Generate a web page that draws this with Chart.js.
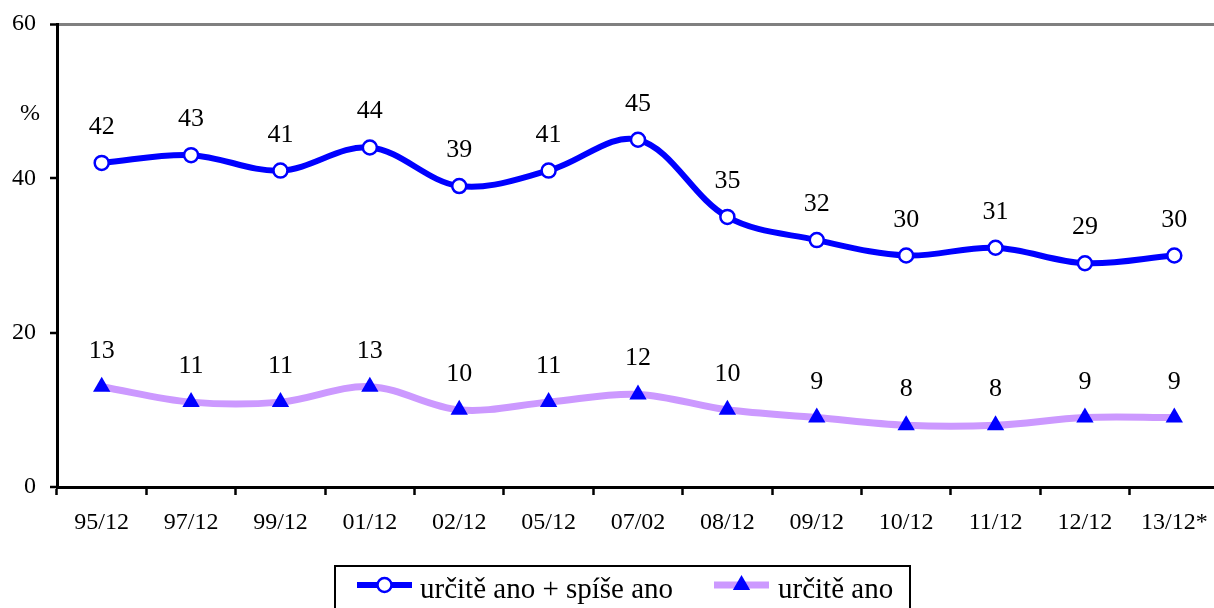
<!DOCTYPE html>
<html>
<head>
<meta charset="utf-8">
<script src="https://cdn.jsdelivr.net/npm/chart.js@4/dist/chart.umd.min.js"></script>
<style>
html,body{margin:0;padding:0;background:#fff;overflow:hidden;width:1214px;height:608px;}
canvas{display:block;}
</style>
</head>
<body>
<canvas id="c" width="1229" height="608"></canvas>
<script>
const categories = ["95/12","97/12","99/12","01/12","02/12","05/12","07/02","08/12","09/12","10/12","11/12","12/12","13/12*"];
const seriesNames = ["určitě ano + spíše ano","určitě ano"];
const seriesA = [42,43,41,44,39,41,45,35,32,30,31,29,30];
const seriesB = [13,11,11,13,10,11,12,10,9,8,8,9,9];
const yTicks = [0,20,40,60];
const yUnit = "%";

const FONT = "'Liberation Serif','Times New Roman',serif";

const dataLabels = {
  id: 'dataLabels',
  afterDatasetsDraw(chart) {
    const ctx = chart.ctx;
    ctx.save();
    ctx.font = "26px " + FONT;
    ctx.fillStyle = "#000";
    ctx.textAlign = "center";
    ctx.textBaseline = "alphabetic";
    chart.data.datasets.forEach((ds, i) => {
      const meta = chart.getDatasetMeta(i);
      meta.data.forEach((pt, j) => {
        ctx.fillText(String(ds.data[j]), pt.x, pt.y - 29);
      });
    });
    ctx.font = "24px " + FONT;
    ctx.fillText(yUnit, 30, 120);
    ctx.restore();
  }
};

const boxLegend = {
  id: 'boxLegend',
  afterDraw(chart) {
    const ctx = chart.ctx;
    const ds = chart.data.datasets;
    ctx.save();
    ctx.strokeStyle = "#000";
    ctx.lineWidth = 2;
    ctx.strokeRect(335, 566, 575, 60);
    const cy = 585;
    const items = [{x0:357,x1:412,tx:420},{x0:714,x1:769,tx:778}];
    items.forEach((it, i) => {
      const d = ds[i];
      ctx.strokeStyle = d.borderColor;
      ctx.lineWidth = d.borderWidth;
      ctx.beginPath();
      ctx.moveTo(it.x0, cy); ctx.lineTo(it.x1, cy); ctx.stroke();
      const mx = (it.x0 + it.x1) / 2;
      ctx.fillStyle = d.pointBackgroundColor;
      ctx.strokeStyle = d.pointBorderColor;
      ctx.lineWidth = d.pointBorderWidth;
      ctx.beginPath();
      if (d.pointStyle === 'circle') {
        ctx.arc(mx, cy, d.pointRadius, 0, Math.PI * 2);
      } else {
        const r = d.pointRadius;
        ctx.moveTo(mx, cy - r);
        ctx.lineTo(mx + r * Math.cos(Math.PI/6), cy + r/2);
        ctx.lineTo(mx - r * Math.cos(Math.PI/6), cy + r/2);
        ctx.closePath();
      }
      ctx.fill();
      if (d.pointBorderWidth > 0) ctx.stroke();
      ctx.fillStyle = "#000";
      ctx.font = "29px " + FONT;
      ctx.textAlign = "left";
      ctx.textBaseline = "alphabetic";
      ctx.fillText(d.label, it.tx, 598);
    });
    ctx.restore();
  }
};

new Chart(document.getElementById('c'), {
  type: 'line',
  data: {
    labels: categories,
    datasets: [
      {
        label: seriesNames[0],
        data: seriesA,
        borderColor: '#0000ff',
        borderWidth: 6,
        tension: 0.35,
        pointStyle: 'circle',
        pointRadius: 7,
        pointBackgroundColor: '#ffffff',
        pointBorderColor: '#0000ff',
        pointBorderWidth: 2.5,
        fill: false
      },
      {
        label: seriesNames[1],
        data: seriesB,
        borderColor: '#cc99ff',
        borderWidth: 7,
        tension: 0.35,
        pointStyle: 'triangle',
        pointRadius: 10,
        pointBackgroundColor: '#0000ff',
        pointBorderColor: '#0000ff',
        pointBorderWidth: 0,
        fill: false
      }
    ]
  },
  options: {
    responsive: false,
    animation: false,
    events: [],
    layout: { padding: { top: 24, left: 0, right: 1, bottom: 0 } },
    plugins: { legend: { display: false }, tooltip: { enabled: false } },
    scales: {
      x: {
        offset: true,
        afterFit(s) { s.height = 121; s.paddingLeft = 0; s.paddingRight = 0; },
        border: { display: true, color: '#000', width: 3 },
        grid: { offset: true, drawOnChartArea: false, drawTicks: true, tickLength: 8, tickColor: '#000', tickWidth: 2.5 },
        ticks: { color: '#000', font: { family: FONT, size: 24 }, padding: 13, maxRotation: 0, autoSkip: false }
      },
      y: {
        min: 0, max: 60,
        afterFit(s) { s.width = 57; s.paddingTop = 0; s.paddingBottom = 0; },
        afterBuildTicks(s) { s.ticks = yTicks.map(v => ({ value: v })); },
        border: { display: true, color: '#000', width: 3 },
        grid: {
          drawTicks: true, tickLength: 7, tickColor: '#000', tickWidth: 2.5,
          color: (c) => c.tick && c.tick.value === 60 ? '#808080' : 'rgba(0,0,0,0)',
          lineWidth: (c) => c.tick && c.tick.value === 60 ? 3 : 0
        },
        ticks: { color: '#000', font: { family: FONT, size: 24 }, padding: 14 }
      }
    }
  },
  plugins: [dataLabels, boxLegend]
});
</script>
</body>
</html>
